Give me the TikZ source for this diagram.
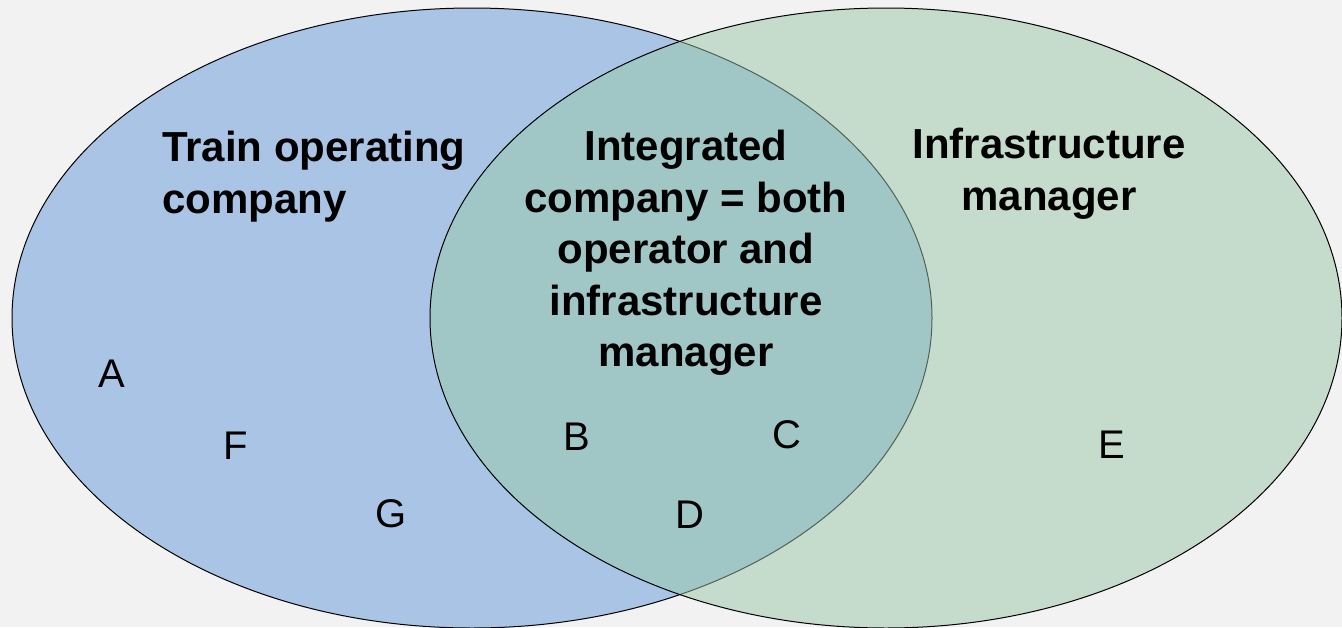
\documentclass[tikz,border=0pt]{standalone}
\usepackage{fontspec}
\setmainfont{Liberation Sans}
\definecolor{bgc}{RGB}{242,242,242}
\definecolor{tocblue}{RGB}{169,196,229}
\definecolor{imgreen}{RGB}{154,200,168}
\begin{document}
\begin{tikzpicture}[x=1pt,y=-1pt,
  title/.style={font=\bfseries\fontsize{42}{51.5}\selectfont, inner sep=0pt, align=center},
  letter/.style={font=\fontsize{40}{48}\selectfont, inner sep=0pt, anchor=base},
  setline/.style={draw=black, line width=1pt}]
\fill[bgc] (0,0) rectangle (1342,627);
\useasboundingbox (0,0) rectangle (1342,627);
\draw[setline, fill=tocblue] (472,318) ellipse [x radius=460, y radius=310];
\draw[setline, fill=imgreen, fill opacity=0.5] (886,318) ellipse [x radius=456, y radius=310];
\node[title, align=left, anchor=north west] (toc) at (162,131) {Train operating\\company};
\node[title, anchor=north] (ic) at (686,130) {Integrated\\company = both\\operator and\\infrastructure\\manager};
\node[title, anchor=north] (im) at (1049,128) {Infrastructure\\manager};
\node[letter] (A) at (112,387) {A};
\node[letter] (F) at (236,459) {F};
\node[letter] (G) at (391,527) {G};
\node[letter] (B) at (577,450) {B};
\node[letter] (C) at (787,448) {C};
\node[letter] (D) at (690,528) {D};
\node[letter] (E) at (1112,458) {E};
\end{tikzpicture}
\end{document}
